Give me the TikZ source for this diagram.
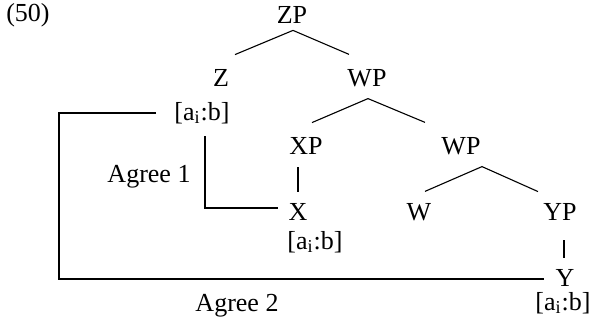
\documentclass[tikz,border=0pt]{standalone}
\usepackage{fontspec}
\setmainfont{Liberation Serif}
\tikzset{
  lbl/.style={inner sep=0pt, font=\fontsize{13}{15}\selectfont},
  branch/.style={line width=0.55pt},
  agree/.style={line width=1pt},
}
\newcommand{\feat}{[a\textsubscript{i}:b]}
\begin{document}
\begin{tikzpicture}[x=0.5pt,y=-0.5pt]
\useasboundingbox (0,0) rectangle (591,324);
\node[lbl] (ex) at (28,15) {(50)};
\node[lbl] (ZP) at (292,15) {ZP};
\node[lbl] (Z) at (221,78) {Z};
\node[lbl] (WP) at (367,78) {WP};
\node[lbl] (fz) at (202,113) {\feat};
\node[lbl] (XP) at (306,146) {XP};
\node[lbl] (WP2) at (461,146) {WP};
\node[lbl] (X) at (298,212) {X};
\node[lbl] (W) at (419,212) {W};
\node[lbl] (YP) at (560,212) {YP};
\node[lbl] (fx) at (315,242) {\feat};
\node[lbl] (Y) at (565,278) {Y};
\node[lbl] (fy) at (563,303) {\feat};
\node[lbl] (ag1) at (149,177) {Agree 1};
\node[lbl] (ag2) at (237,306) {Agree 2};
% tree branches
\draw[branch] ([shift={(14,-14.5)}]Z.north) -- ([shift={(1,6.5)}]ZP.south) -- ([shift={(-18,-14.5)}]WP.north);
\draw[branch] ([shift={(6,-14.5)}]XP.north) -- ([shift={(1,11.5)}]WP.south) -- ([shift={(-36,-14.5)}]WP2.north);
\draw[branch] ([shift={(-8,12.5)}]XP.south) -- ([shift={(0,-11.5)}]X.north);
\draw[branch] ([shift={(6,-11.5)}]W.north) -- ([shift={(21,11.5)}]WP2.south) -- ([shift={(-22,-11.5)}]YP.north);
\draw[branch] ([shift={(4,19.5)}]YP.south) -- ([shift={(-1,-11.5)}]Y.north);
% agree brackets
\draw[agree] ([shift={(-18,0)}]fz.west) -- ++(-97,0) |- ([shift={(-11,1)}]Y.west);
\draw[agree] ([shift={(3,12)}]fz.south) |- ([shift={(-10,-4)}]X.west);
\end{tikzpicture}
\end{document}
